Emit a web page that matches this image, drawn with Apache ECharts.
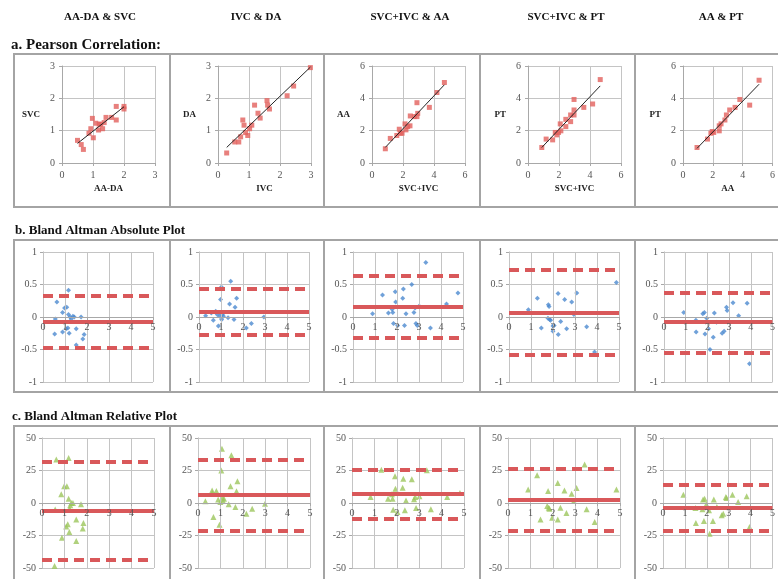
<!DOCTYPE html>
<html>
<head>
<meta charset="utf-8">
<script src="https://cdn.jsdelivr.net/npm/echarts@6.0.0/dist/echarts.min.js"></script>
<style>
html,body{margin:0;padding:0;background:#fff}
#chart{width:778px;height:579px}
</style>
</head>
<body>
<div id="chart"></div>
<script>
// column headers and axis names
var colTitles = ['AA-DA & SVC', 'IVC & DA', 'SVC+IVC & AA', 'SVC+IVC & PT', 'AA & PT'];
var corrXNames = ['AA-DA', 'IVC', 'SVC+IVC', 'SVC+IVC', 'AA'];
var corrYNames = ['SVC', 'DA', 'AA', 'PT', 'PT'];
var corrMax = [3, 3, 6, 6, 6];
var corrStep = [1, 1, 2, 2, 2];

// a. Pearson correlation points
var corrAADA_SVC = [[0.5,0.7],[0.62,0.57],[0.69,0.42],[0.87,0.92],[0.93,1.06],[0.98,1.38],[1.01,0.78],[1.09,1.23],[1.18,1.02],[1.2,1.2],[1.25,1.2],[1.31,1.06],[1.36,1.25],[1.42,1.41],[1.6,1.41],[1.75,1.75],[1.75,1.33],[2.0,1.75],[2.0,1.67]];
var corrIVC_DA = [[0.28,0.31],[0.54,0.65],[0.67,0.65],[0.73,0.81],[0.8,1.33],[0.84,1.17],[0.89,0.94],[0.96,0.85],[1.02,1.06],[1.09,1.17],[1.18,1.79],[1.29,1.54],[1.36,1.39],[1.58,1.93],[1.6,1.79],[1.66,1.67],[2.23,2.08],[2.44,2.38],[2.98,2.95]];
var corrSVCIVC_AA = [[0.86,0.88],[1.18,1.52],[1.6,1.7],[1.76,2.09],[1.83,1.84],[1.94,1.84],[2.13,2.42],[2.19,2.05],[2.3,2.25],[2.45,2.3],[2.47,2.91],[2.73,2.87],[2.9,3.73],[2.9,2.87],[2.95,3.07],[3.7,3.44],[4.19,4.36],[4.67,4.98]];
var corrSVCIVC_PT = [[0.89,0.96],[1.17,1.48],[1.59,1.43],[1.76,1.89],[1.86,1.74],[1.97,1.89],[2.08,2.42],[2.12,1.99],[2.44,2.7],[2.44,2.25],[2.75,2.56],[2.75,2.97],[2.97,2.97],[2.97,3.28],[2.97,3.93],[3.6,3.44],[4.17,3.65],[4.66,5.16]];
var corrAA_PT = [[0.94,0.96],[1.64,1.48],[1.87,1.84],[1.96,1.95],[2.06,1.89],[2.43,1.99],[2.43,2.3],[2.55,2.42],[2.81,2.66],[2.91,2.97],[3.13,3.28],[3.49,3.44],[3.81,3.93],[4.47,3.58],[5.1,5.12]];

// b. Bland Altman absolute
var absAADA_SVC = [[0.56,-0.03],[0.63,0.23],[0.53,-0.26],[0.89,0.07],[0.89,-0.23],[0.98,0.14],[1.08,0.15],[1.16,0.41],[1.16,0.04],[1.13,-0.17],[1.05,-0.18],[1.19,-0.25],[1.23,0.0],[1.28,-0.03],[1.36,0.01],[1.42,0.0],[1.51,-0.18],[1.51,-0.43],[1.73,0.0],[1.81,-0.34],[1.87,-0.27]];
var absIVC_DA = [[0.3,0.02],[0.56,0.06],[0.65,-0.05],[0.76,0.09],[0.83,0.04],[0.88,-0.14],[0.94,0.01],[0.98,0.27],[1.02,0.46],[1.03,-0.04],[1.06,0.04],[1.11,0.01],[1.32,-0.01],[1.39,0.2],[1.44,0.55],[1.59,-0.04],[1.64,0.15],[1.71,0.29],[2.15,-0.17],[2.38,-0.1],[2.95,0.0]];
var absSVCIVC_AA = [[0.89,0.05],[1.34,0.34],[1.61,0.06],[1.78,0.12],[1.81,0.07],[1.84,-0.1],[1.92,0.39],[1.94,0.23],[2.03,-0.13],[2.26,0.29],[2.29,0.43],[2.34,-0.13],[2.41,0.05],[2.67,0.5],[2.77,0.07],[2.82,0.14],[2.86,-0.1],[2.92,-0.13],[3.01,0.17],[3.31,0.84],[3.52,-0.17],[4.25,0.2],[4.77,0.37]];
var absSVCIVC_PT = [[0.88,0.11],[1.29,0.29],[1.47,-0.17],[1.77,-0.02],[1.79,0.19],[1.82,0.16],[1.85,-0.04],[1.89,-0.05],[2.0,-0.14],[2.0,-0.22],[2.05,-0.13],[2.23,0.36],[2.24,-0.27],[2.35,-0.07],[2.53,0.27],[2.62,-0.18],[2.85,0.23],[2.95,0.04],[3.08,0.37],[3.53,-0.15],[3.89,-0.54],[4.88,0.53]];
var absAA_PT = [[0.91,0.07],[1.47,-0.05],[1.48,-0.23],[1.79,0.05],[1.86,0.07],[1.89,-0.26],[1.97,-0.02],[2.05,-0.18],[2.12,-0.5],[2.27,-0.31],[2.32,0.06],[2.42,-0.08],[2.68,-0.25],[2.77,-0.22],[2.88,0.15],[2.91,0.1],[3.18,0.22],[3.44,0.02],[3.83,0.21],[3.94,-0.72]];
var absMean = [-0.08, 0.08, 0.16, 0.07, -0.08];
var absUpper = [0.32, 0.43, 0.64, 0.72, 0.38];
var absLower = [-0.48, -0.27, -0.32, -0.58, -0.55];

// c. Bland Altman relative (%)
var relAADA_SVC = [[0.56,-48.5],[0.59,-5],[0.64,33.5],[0.86,6.7],[0.89,-26.7],[0.99,12.8],[1.08,-18],[1.11,12.8],[1.15,-16.4],[1.19,34.6],[1.19,3.3],[1.22,-22.3],[1.23,-4.4],[1.26,-1.8],[1.31,0],[1.38,0],[1.53,-12.6],[1.53,-29.2],[1.74,-1],[1.82,-19.7],[1.85,-15.4]];
var relIVC_DA = [[0.33,1.3],[0.63,9.7],[0.64,7.7],[0.69,-10.8],[0.82,9.2],[0.9,2.6],[0.96,-16.7],[1.0,0.8],[1.04,25],[1.07,41.8],[1.09,4.1],[1.12,1.5],[1.16,3.3],[1.37,-1],[1.45,12.8],[1.49,36.7],[1.67,-3],[1.72,9],[1.76,16.7],[2.16,-8.2],[2.42,-4.4],[2.99,-0.5]];
var relSVCIVC_AA = [[0.83,4.6],[1.31,25.6],[1.61,3.3],[1.78,6.7],[1.81,3.3],[1.84,-5.1],[1.92,20.5],[1.94,11],[2.03,-6.9],[2.26,11.8],[2.29,18.7],[2.36,-5.6],[2.41,2],[2.67,18.2],[2.77,2.8],[2.82,4.6],[2.86,-3.8],[3.01,5.1],[3.34,25.1],[3.52,-4.9],[4.25,4.6],[4.82,7.7]];
var relSVCIVC_PT = [[0.9,10.3],[1.3,21.3],[1.45,-12.6],[1.75,-2.3],[1.79,9.2],[1.82,-3.6],[1.85,-4.4],[1.97,-11.3],[2.22,-12.6],[2.22,15.4],[2.34,-3.6],[2.52,9.7],[2.61,-7.7],[2.84,7.2],[2.94,1.5],[3.06,11.5],[3.42,29.7],[3.51,-4.9],[3.87,-14.6],[4.84,10.3]];
var relAA_PT = [[0.93,6.4],[1.48,-3.8],[1.5,-15.4],[1.8,-4.9],[1.83,2.6],[1.9,3.3],[1.98,-1],[1.87,-13.8],[2.1,-5.6],[2.13,-23.6],[2.28,-13.8],[2.32,2.6],[2.46,-3.1],[2.68,-9.5],[2.75,-8.2],[2.87,4.6],[2.9,3.8],[3.17,6.4],[3.43,0.8],[3.82,5.1],[3.95,-18.5]];
var relMean = [-6, 6.5, 7, 2.5, -3.5];
var relUpper = [32, 33.5, 25.5, 26, 14];
var relLower = [-44, -21.5, -12, -21, -21];

var corrSets = [corrAADA_SVC, corrIVC_DA, corrSVCIVC_AA, corrSVCIVC_PT, corrAA_PT];
var absSets = [absAADA_SVC, absIVC_DA, absSVCIVC_AA, absSVCIVC_PT, absAA_PT];
var relSets = [relAADA_SVC, relIVC_DA, relSVCIVC_AA, relSVCIVC_PT, relAA_PT];

// layout
var panelLeft = [14, 170, 324, 480, 635];
var redLine = '#d9585a';
var labelFont = 'Liberation Serif';
var baHeight = 130;

// least squares line over the data range
function fitLine(pts){
    var n = pts.length, sx = 0, sy = 0, sxx = 0, sxy = 0, lo = Infinity, hi = -Infinity;
    for (var i = 0; i < n; i++) {
        var x = pts[i][0], y = pts[i][1];
        sx += x; sy += y; sxx += x * x; sxy += x * y;
        lo = Math.min(lo, x); hi = Math.max(hi, x);
    }
    var b = (n * sxy - sx * sy) / (n * sxx - sx * sx);
    var a = (sy - b * sx) / n;
    return [[lo, a + b * lo], [hi, a + b * hi]];
}

function axisBase(min, max, step, margin){
    return {
        type: 'value', min: min, max: max, interval: step,
        axisLine: {show: true, onZero: false, lineStyle: {color: '#a8a8a8'}},
        axisTick: {show: true, length: 3, lineStyle: {color: '#a8a8a8'}},
        axisLabel: {color: '#555', fontSize: 10, fontFamily: labelFont, margin: margin},
        splitLine: {show: true, lineStyle: {color: '#c4c4c4'}}
    };
}

var grids = [], xAxes = [], yAxes = [], series = [], graphics = [];

function addGrid(g, xa, ya){
    grids.push(g);
    var gi = grids.length - 1;
    xa.gridIndex = gi;
    ya.gridIndex = gi;
    xAxes.push(xa);
    yAxes.push(ya);
    return gi;
}

function limitLines(mean, upper, lower){
    return {
        silent: true,
        symbol: ['none', 'none'],
        label: {show: false},
        animation: false,
        data: [
            {yAxis: mean, lineStyle: {color: redLine, width: 4, type: 'solid'}},
            {yAxis: upper, lineStyle: {color: redLine, width: 4, type: [10, 6]}},
            {yAxis: lower, lineStyle: {color: redLine, width: 4, type: [10, 6]}}
        ]
    };
}

// Bland Altman x axis drawn across the middle (y = 0), labels above the lines
function baXAxis(){
    var xa = axisBase(0, 5, 1, 5);
    xa.offset = -baHeight / 2;
    xa.z = 5;
    return xa;
}

for (var i = 0; i < 5; i++) {
    var pl = panelLeft[i];
    var pw = (i < 4 ? panelLeft[i + 1] : 800) - pl;

    // panel frames
    [[54, 153], [240, 152], [426, 180]].forEach(function(r){
        graphics.push({type: 'rect', shape: {x: pl, y: r[0], width: pw, height: r[1]},
            style: {fill: 'none', stroke: '#a4a4a4', lineWidth: 2}, silent: true});
    });

    graphics.push({type: 'text', x: pl + 86, y: 17,
        style: {text: colTitles[i], font: 'bold 11px "Liberation Serif"', fill: '#111',
            textAlign: 'center', textVerticalAlign: 'middle'}});

    // a. correlation
    var xa = axisBase(0, corrMax[i], corrStep[i], 7);
    xa.name = corrXNames[i];
    xa.nameLocation = 'middle';
    xa.nameGap = 21;
    xa.nameTextStyle = {fontFamily: labelFont, fontWeight: 'bold', fontSize: 9, color: '#222'};
    var ya = axisBase(0, corrMax[i], corrStep[i], 7);
    ya.name = corrYNames[i];
    ya.nameLocation = 'middle';
    ya.nameRotate = 0;
    ya.nameGap = 22;
    ya.nameTextStyle = {fontFamily: labelFont, fontWeight: 'bold', fontSize: 9, color: '#222'};
    var gi = addGrid({left: pl + 48, top: 66, width: 93, height: 97}, xa, ya);
    series.push({type: 'scatter', xAxisIndex: gi, yAxisIndex: gi, data: corrSets[i],
        symbol: 'rect', symbolSize: 5, itemStyle: {color: '#e2605c'}});
    series.push({type: 'line', xAxisIndex: gi, yAxisIndex: gi, data: fitLine(corrSets[i]),
        symbol: 'none', lineStyle: {color: '#222', width: 1}, silent: true});

    // b. absolute
    gi = addGrid({left: pl + 29, top: 252, width: 110, height: baHeight},
        baXAxis(), axisBase(-1, 1, 0.5, 6));
    series.push({type: 'scatter', xAxisIndex: gi, yAxisIndex: gi, data: absSets[i],
        symbol: 'diamond', symbolSize: 5, itemStyle: {color: '#4c8ad0'},
        markLine: limitLines(absMean[i], absUpper[i], absLower[i])});

    // c. relative
    gi = addGrid({left: pl + 28, top: 438, width: 112, height: baHeight},
        baXAxis(), axisBase(-50, 50, 25, 6));
    series.push({type: 'scatter', xAxisIndex: gi, yAxisIndex: gi, data: relSets[i],
        symbol: 'triangle', symbolSize: 6, itemStyle: {color: '#9cc55c'},
        markLine: limitLines(relMean[i], relUpper[i], relLower[i])});
}

graphics.push({type: 'text', x: 11, y: 45,
    style: {text: 'a. Pearson Correlation:', font: 'bold 15px "Liberation Serif"', fill: '#111', textVerticalAlign: 'middle'}});
graphics.push({type: 'text', x: 15, y: 231,
    style: {text: 'b. Bland Altman Absolute Plot', font: 'bold 13px "Liberation Serif"', fill: '#111', textVerticalAlign: 'middle'}});
graphics.push({type: 'text', x: 12, y: 417,
    style: {text: 'c. Bland Altman Relative Plot', font: 'bold 13px "Liberation Serif"', fill: '#111', textVerticalAlign: 'middle'}});

var myChart = echarts.init(document.getElementById('chart'));
myChart.setOption({
    animation: false,
    grid: grids,
    xAxis: xAxes,
    yAxis: yAxes,
    series: series,
    graphic: graphics
});
</script>
</body>
</html>
